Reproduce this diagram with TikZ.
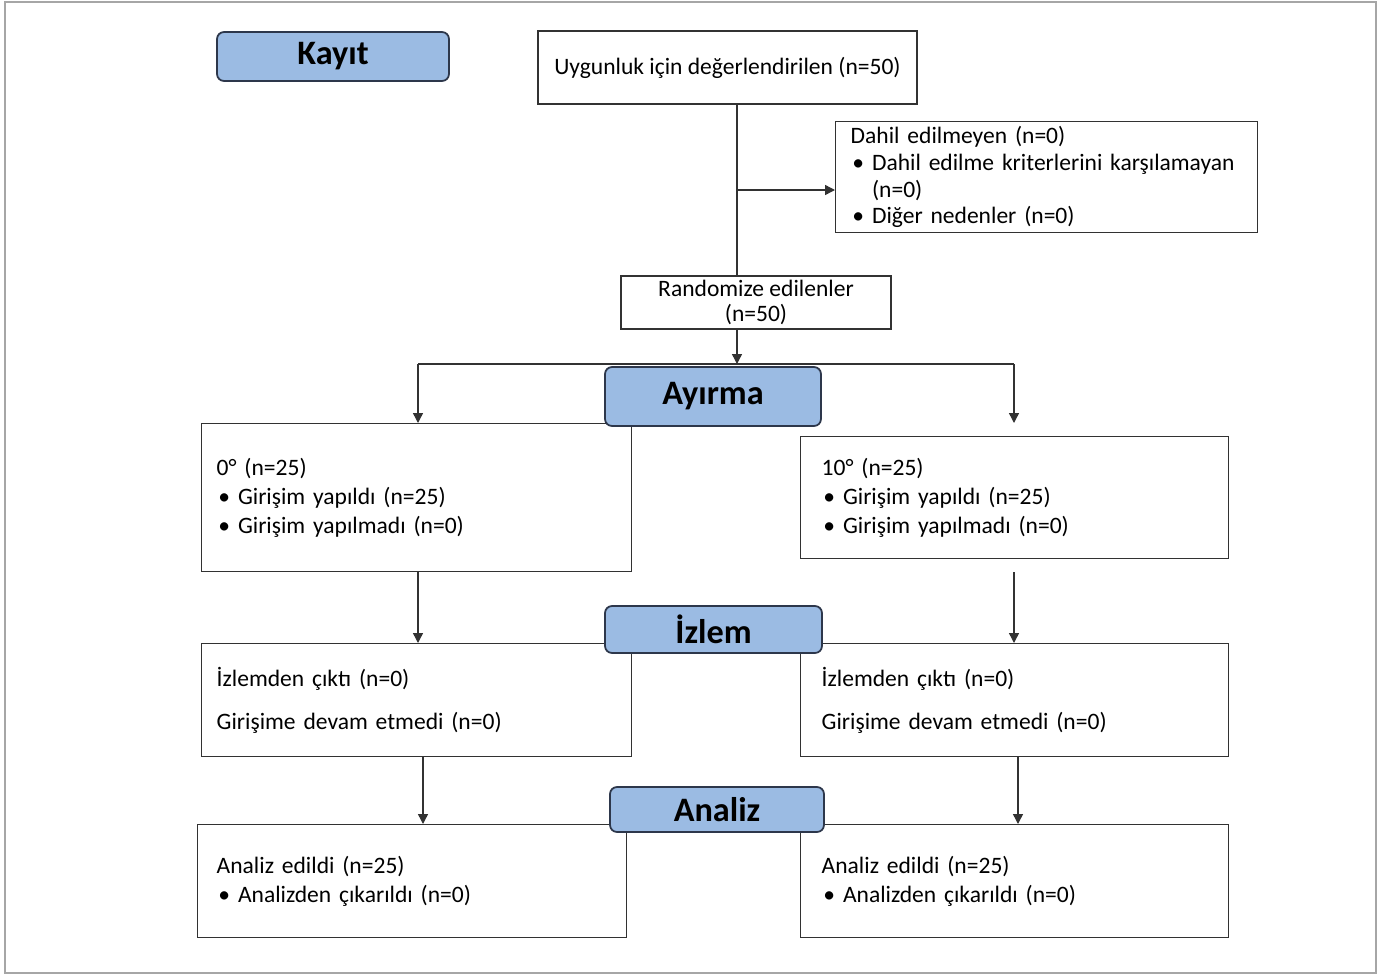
\documentclass[tikz,border=0pt]{standalone}
\usepackage{fontspec}
\setmainfont{Carlito}
\usetikzlibrary{arrows.meta}
\definecolor{hdrblue}{RGB}{155,187,227}
\definecolor{hdredge}{RGB}{45,55,75}
\definecolor{lineclr}{RGB}{50,50,50}
\tikzset{
  panel/.style={rectangle, draw=lineclr, line width=0.8pt, align=left,
                anchor=north west, inner ysep=0pt,
                font=\fontsize{13.4}{16.5}\selectfont},
  cpanel/.style={rectangle, draw=lineclr, line width=0.8pt, align=center,
                 inner sep=0pt, font=\fontsize{13.4}{14}\selectfont},
  header/.style={rectangle, rounded corners=4pt, draw=hdredge, line width=1pt,
                 fill=hdrblue, inner sep=0pt,
                 font=\fontsize{19.5}{20}\selectfont\bfseries},
  link/.style={draw=lineclr, line width=0.8pt},
  arr/.style={link, -{Triangle[width=0.2cm,length=0.2cm]}},
}

\begin{document}
\begin{tikzpicture}[x=0.02cm, y=-0.02cm]
  \useasboundingbox (0,0) rectangle (1387,975);
  \draw[gray!70, line width=1.2pt] (5,2) rectangle (1376,973);
  % Kayit
  \node[cpanel, minimum width=7.58cm, minimum height=1.46cm] (uyg) at (727.5,67.5)
    {Uygunluk için değerlendirilen (n=50)};
  \node[panel, text width=7.84cm, inner xsep=0.3cm, minimum height=2.22cm,
        font=\fontsize{13.4}{15.1}\selectfont] (excl) at (835,121)
    {Dahil edilmeyen (n=0)\\
     \hspace{1pt}\textbullet\ Dahil edilme kriterlerini karşılamayan\\
     \hspace{1pt}\phantom{\textbullet\ }(n=0)\\
     \hspace{1pt}\textbullet\ Diğer nedenler (n=0)};
  \node[cpanel, minimum width=5.4cm, minimum height=1.06cm] (rand) at (756,302.5)
    {Randomize edilenler\\(n=50)};
  % Ayirma
  \node[panel, text width=8.0cm, inner xsep=0.3cm, minimum height=2.96cm] (armL) at (201,423)
    {0° (n=25)\\
     \hspace{1pt}\textbullet\ Girişim yapıldı (n=25)\\
     \hspace{1pt}\textbullet\ Girişim yapılmadı (n=0)};
  \node[panel, text width=7.72cm, inner xsep=0.42cm, minimum height=2.44cm] (armR) at (800,436)
    {10° (n=25)\\
     \hspace{1pt}\textbullet\ Girişim yapıldı (n=25)\\
     \hspace{1pt}\textbullet\ Girişim yapılmadı (n=0)};
  % Izlem
  \node[panel, text width=8.0cm, inner xsep=0.3cm, minimum height=2.26cm] (fupL) at (201,643)
    {İzlemden çıktı (n=0)\\[8pt]
     Girişime devam etmedi (n=0)};
  \node[panel, text width=7.72cm, inner xsep=0.42cm, minimum height=2.26cm] (fupR) at (800,643)
    {İzlemden çıktı (n=0)\\[8pt]
     Girişime devam etmedi (n=0)};
  % Analiz
  \node[panel, text width=7.82cm, inner xsep=0.38cm, minimum height=2.26cm] (anaL) at (197,824)
    {Analiz edildi (n=25)\\
     \hspace{1pt}\textbullet\ Analizden çıkarıldı (n=0)};
  \node[panel, text width=7.72cm, inner xsep=0.42cm, minimum height=2.26cm] (anaR) at (800,824)
    {Analiz edildi (n=25)\\
     \hspace{1pt}\textbullet\ Analizden çıkarıldı (n=0)};
  % connectors
  \coordinate (trunk) at (737,190);
  \coordinate (splitL) at (418,364);
  \coordinate (splitR) at (1014,364);
  \coordinate (armRin) at (1014,423);
  \coordinate (armRout) at (1014,572);
  \draw[link] (uyg.south -| trunk) -- (rand.north -| trunk);
  \draw[arr] (trunk) -- (trunk -| excl.west);
  \draw[arr] (rand.south -| trunk) -- (trunk |- splitL);
  \draw[link] (splitL) -- (splitR);
  \draw[arr] (splitL) -- (splitL |- armL.north);
  \draw[arr] (splitR) -- (armRin);
  \draw[arr] (armL.south -| splitL) -- (fupL.north -| splitL);
  \draw[arr] (armRout) -- (fupR.north -| armRout);
  \draw[arr] (423,0 |- fupL.south) -- (423,0 |- anaL.north);
  \draw[arr] (1018,0 |- fupR.south) -- (1018,0 |- anaR.north);
  % headers
  \node[header, minimum width=4.64cm, minimum height=0.98cm] (hKayit) at (333,56.5) {Kayıt};
  \node[header, minimum width=4.32cm, minimum height=1.18cm] (hAyirma) at (713,396.5) {Ayırma};
  \node[header, minimum width=4.34cm, minimum height=0.94cm] (hIzlem) at (713.5,629.5) {İzlem};
  \node[header, minimum width=4.28cm, minimum height=0.9cm] (hAnaliz) at (717,809.5) {Analiz};
\end{tikzpicture}
\end{document}
